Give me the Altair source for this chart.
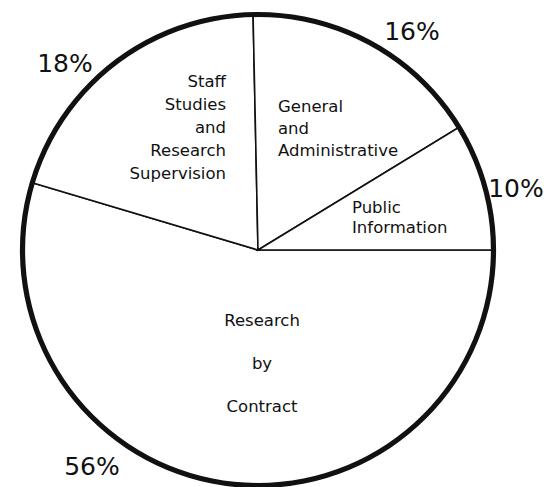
import math
import altair as alt
import pandas as pd

# ---- data ----
categories = [
    "Research by Contract",
    "Staff Studies and Research Supervision",
    "General and Administrative",
    "Public Information",
]
percent_labels = ["56%", "18%", "16%", "10%"]
# slice sizes as actually drawn (degrees of the circle)
slice_degrees = [196.6, 72.2, 59.8, 31.4]
slice_lines = [
    ["Research", "by", "Contract"],
    ["Staff", "Studies", "and", "Research", "Supervision"],
    ["General", "and", "Administrative"],
    ["Public", "Information"],
]

# ---- layout (pixels, chart coordinates) ----
W, H = 538, 479
CX, CY = 250, 242
R = 235.5
FONT = "DejaVu Sans"

slice_label_layout = [
    # (x, first baseline, line step, align)
    (254, 318, 43, "center"),
    (218, 79, 23, "right"),
    (270, 104, 22, "left"),
    (344, 205, 20, "left"),
]
pct_positions = [(84, 467), (57, 64), (404, 32), (508, 189)]

slices = pd.DataFrame({
    "category": categories,
    "deg": slice_degrees,
    "order": list(range(len(categories))),
})

pie = alt.Chart(slices).mark_arc(
    radius=R, stroke="#111111", strokeWidth=1.6, fill="white"
).encode(
    theta=alt.Theta("deg:Q", stack=True,
                    scale=alt.Scale(range=[math.pi / 2, math.pi / 2 + 2 * math.pi])),
    order=alt.Order("order:Q"),
    x=alt.value(CX),
    y=alt.value(CY),
)

ring = alt.Chart(pd.DataFrame({"k": [0]})).mark_arc(
    radius=R + 2.6, radius2=R - 2.6, color="#111111", theta=0, theta2=2 * math.pi
).encode(x=alt.value(CX), y=alt.value(CY))

rows = []
for lines, (x, y0, step, align) in zip(slice_lines, slice_label_layout):
    for i, t in enumerate(lines):
        rows.append({"text": t, "x": x, "y": y0 + i * step, "align": align})
lab = pd.DataFrame(rows)

def text_layer(df, align, size):
    return alt.Chart(df).mark_text(
        align=align, baseline="alphabetic", font=FONT, fontSize=size, color="#111111"
    ).encode(
        x=alt.X("x:Q", scale=None, axis=None),
        y=alt.Y("y:Q", scale=None, axis=None),
        text="text:N",
    )

layers = [pie, ring]
for a in ["left", "right", "center"]:
    layers.append(text_layer(lab[lab["align"] == a], a, 16.5))

pct = pd.DataFrame({
    "text": percent_labels,
    "x": [p[0] for p in pct_positions],
    "y": [p[1] for p in pct_positions],
})
layers.append(text_layer(pct, "center", 25))

chart = alt.layer(*layers).properties(
    width=W, height=H, autosize="none", padding=0, background="white"
).configure_view(strokeWidth=0)

chart.save("out.html", embed_options={"renderer": "svg", "actions": False})
